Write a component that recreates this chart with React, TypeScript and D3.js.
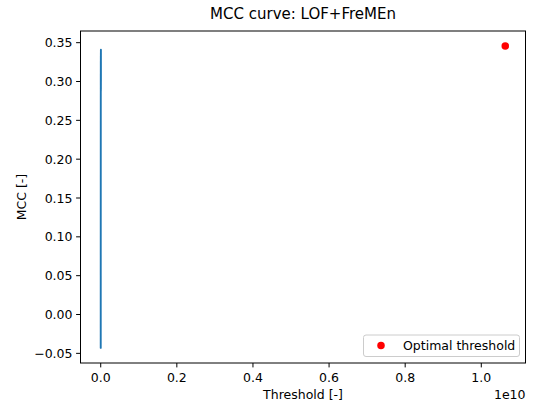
import React from "react";
import * as d3 from "d3";

// MCC curve samples (threshold, MCC) — thresholds are tiny relative to 1e10
const thresholds: number[] = [
  5.0e6, 4.6e6, 4.2e6, 3.8e6, 3.4e6, 3.0e6, 2.6e6, 2.2e6, 1.9e6, 1.6e6,
  1.2e6, 8.0e5, 5.0e5, 3.0e5, 1.5e5, 8.0e4, 4.0e4, 2.0e4, 1.0e4, 5.0e3,
  2.0e3, 8.0e2, 3.0e2, 1.0e2, 30, 10, 3, 1,
];
const mccValues: number[] = [
  0.300, 0.341, 0.290, 0.337, 0.288, 0.333, 0.295, 0.326, 0.286, 0.310,
  0.250, 0.180, 0.110, 0.050, 0.005, -0.018, -0.040, -0.022, -0.043, -0.020,
  -0.038, -0.025, -0.042, -0.030, -0.043, -0.035, -0.043, -0.040,
];

// Optimal threshold marker
const optimalThreshold: number[] = [1.063e10];
const optimalMcc: number[] = [0.3456];

const xTicks: number[] = [0, 0.2e10, 0.4e10, 0.6e10, 0.8e10, 1.0e10];
const yTicks: number[] = [-0.05, 0, 0.05, 0.1, 0.15, 0.2, 0.25, 0.3, 0.35];

const titleText = "MCC curve: LOF+FreMEn";
const xLabel = "Threshold [-]";
const yLabel = "MCC [-]";
const offsetText = "1e10";
const legendLabel = "Optimal threshold";

const W = 534;
const H = 406;
const left = 80.5;
const right = 525.5;
const top = 31;
const bottom = 363;
const font = "DejaVu Sans, sans-serif";
const fs = 12.5;

function padded(lo: number, hi: number): [number, number] {
  const m = (hi - lo) * 0.05;
  return [lo - m, hi + m];
}

export default function App() {
  const allX = [...thresholds, ...optimalThreshold];
  const allY = [...mccValues, ...optimalMcc];
  const x = d3
    .scaleLinear()
    .domain(padded(d3.min(allX) as number, d3.max(allX) as number))
    .range([left, right]);
  const y = d3
    .scaleLinear()
    .domain(padded(d3.min(allY) as number, d3.max(allY) as number))
    .range([bottom, top]);

  const line = d3
    .line<number>()
    .x((_, i) => x(thresholds[i]))
    .y((d) => y(d));

  const fmtY = (v: number) => {
    const s = v.toFixed(2);
    return v < 0 ? "\u2212" + s.slice(1) : s;
  };
  const fmtX = (v: number) => (v / 1e10).toFixed(1);

  const midX = (left + right) / 2;
  const midY = (top + bottom) / 2;

  return (
    <svg
      width={W}
      height={H}
      style={{ position: "absolute", left: 0, top: 0, background: "#fff" }}
      fontFamily={font}
    >
      <rect x={0} y={0} width={W} height={H} fill="#fff" />
      <text x={midX} y={19} fontSize={15} textAnchor="middle" fill="#000">
        {titleText}
      </text>

      <path
        d={line(mccValues) || ""}
        fill="none"
        stroke="#1f77b4"
        strokeWidth={1.9}
        strokeLinejoin="round"
        strokeLinecap="butt"
      />
      {optimalThreshold.map((t, i) => (
        <circle key={i} cx={x(t)} cy={y(optimalMcc[i])} r={3.75} fill="#ff0000" />
      ))}

      {/* axes frame */}
      <rect
        x={left}
        y={top}
        width={right - left}
        height={bottom - top}
        fill="none"
        stroke="#000"
        strokeWidth={1}
      />

      {/* x ticks */}
      {xTicks.map((t) => (
        <g key={t}>
          <line x1={x(t)} x2={x(t)} y1={bottom} y2={bottom + 4.4} stroke="#000" strokeWidth={1} />
          <text x={x(t)} y={bottom + 18.5} fontSize={fs} textAnchor="middle" fill="#000">
            {fmtX(t)}
          </text>
        </g>
      ))}
      {/* y ticks */}
      {yTicks.map((t) => (
        <g key={t}>
          <line x1={left - 4.4} x2={left} y1={y(t)} y2={y(t)} stroke="#000" strokeWidth={1} />
          <text x={left - 8} y={y(t) + 4.5} fontSize={fs} textAnchor="end" fill="#000">
            {fmtY(t)}
          </text>
        </g>
      ))}

      <text x={midX} y={399} fontSize={fs} textAnchor="middle" fill="#000">
        {xLabel}
      </text>
      <text x={right} y={399} fontSize={fs} textAnchor="end" fill="#000">
        {offsetText}
      </text>
      <text
        transform={`translate(${26},${midY}) rotate(-90)`}
        fontSize={fs}
        textAnchor="middle"
        fill="#000"
      >
        {yLabel}
      </text>

      {/* legend */}
      <g>
        <rect
          x={363.5}
          y={335}
          width={156}
          height={21.5}
          rx={2.5}
          fill="#fff"
          fillOpacity={0.8}
          stroke="#ccc"
          strokeWidth={1}
        />
        <circle cx={381} cy={345.5} r={3.75} fill="#ff0000" />
        <text x={403} y={350} fontSize={fs} fill="#000">
          {legendLabel}
        </text>
      </g>
    </svg>
  );
}
